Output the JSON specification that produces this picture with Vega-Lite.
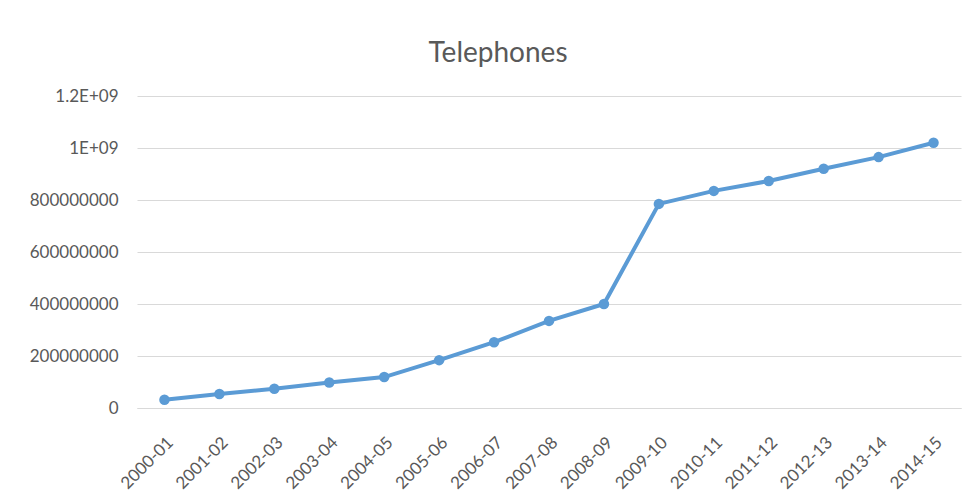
{
  "$schema": "https://vega.github.io/schema/vega-lite/v6.json",
  "width": 824,
  "height": 312,
  "autosize": {"type": "none"},
  "padding": {"left": 137, "top": 96, "right": 12, "bottom": 86},
  "background": "white",
  "title": {
    "text": "Telephones",
    "font": "Lato",
    "fontSize": 28,
    "fontWeight": "normal",
    "color": "#595959",
    "anchor": "middle",
    "frame": "group",
    "dx": -51,
    "baseline": "alphabetic",
    "offset": -3
  },
  "data": {
    "values": [
      {"year": "2000-01", "value": 32000000},
      {"year": "2001-02", "value": 54000000},
      {"year": "2002-03", "value": 74000000},
      {"year": "2003-04", "value": 98000000},
      {"year": "2004-05", "value": 119000000},
      {"year": "2005-06", "value": 184000000},
      {"year": "2006-07", "value": 253000000},
      {"year": "2007-08", "value": 335000000},
      {"year": "2008-09", "value": 400000000},
      {"year": "2009-10", "value": 785000000},
      {"year": "2010-11", "value": 835000000},
      {"year": "2011-12", "value": 873000000},
      {"year": "2012-13", "value": 920000000},
      {"year": "2013-14", "value": 965000000},
      {"year": "2014-15", "value": 1020000000}
    ]
  },
  "mark": {
    "type": "line",
    "color": "#5B9BD5",
    "strokeWidth": 4,
    "point": {"filled": true, "size": 110, "color": "#5B9BD5"}
  },
  "encoding": {
    "x": {
      "field": "year",
      "type": "ordinal",
      "title": null,
      "scale": {"type": "point", "padding": 0.5},
      "axis": {
        "labelAngle": -45,
        "labelFont": "Lato",
        "labelFontSize": 17,
        "labelColor": "#595959",
        "labelPadding": 26,
        "ticks": false,
        "domainColor": "#D9D9D9",
        "domainWidth": 1,
        "grid": false
      }
    },
    "y": {
      "field": "value",
      "type": "quantitative",
      "title": null,
      "scale": {"domain": [0, 1200000000], "nice": false},
      "axis": {
        "values": [0, 200000000, 400000000, 600000000, 800000000, 1000000000, 1200000000],
        "labelExpr": "datum.value >= 1e9 ? ('' + (datum.value / 1e9) + 'E+09') : ('' + datum.value)",
        "labelFont": "Lato",
        "labelFontSize": 17,
        "labelColor": "#595959",
        "labelPadding": 19,
        "ticks": false,
        "domain": false,
        "gridColor": "#D9D9D9",
        "gridWidth": 1
      }
    }
  },
  "config": {"view": {"stroke": null}}
}
